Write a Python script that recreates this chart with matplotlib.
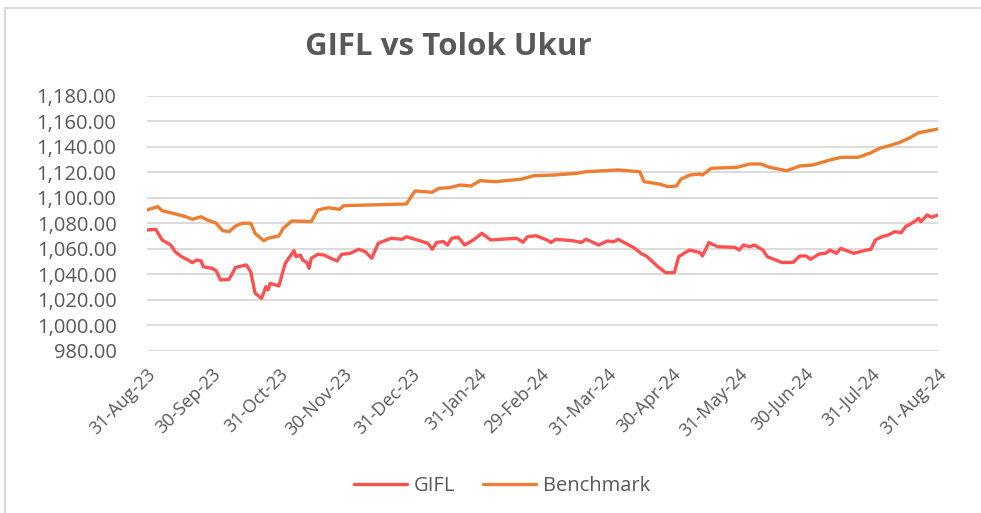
import matplotlib
matplotlib.use("Agg")
import matplotlib.pyplot as plt
import matplotlib.dates as mdates
from matplotlib.patches import Rectangle
import numpy as np

# GIFL series (dates, NAV)
gifl_dates = [
    "2023-08-31", "2023-09-04", "2023-09-07", "2023-09-11", "2023-09-13", "2023-09-16",
    "2023-09-19", "2023-09-21", "2023-09-23", "2023-09-25", "2023-09-26", "2023-09-30",
    "2023-10-02", "2023-10-04", "2023-10-08", "2023-10-11", "2023-10-16", "2023-10-18",
    "2023-10-20", "2023-10-23", "2023-10-25", "2023-10-26", "2023-10-27", "2023-10-31",
    "2023-11-03", "2023-11-07", "2023-11-08", "2023-11-10", "2023-11-11", "2023-11-13",
    "2023-11-14", "2023-11-15", "2023-11-18", "2023-11-21", "2023-11-24", "2023-11-27",
    "2023-11-29", "2023-12-03", "2023-12-07", "2023-12-10", "2023-12-13", "2023-12-16",
    "2023-12-19", "2023-12-22", "2023-12-27", "2023-12-29", "2024-01-03", "2024-01-08",
    "2024-01-10", "2024-01-12", "2024-01-15", "2024-01-17", "2024-01-19", "2024-01-22",
    "2024-01-25", "2024-01-29", "2024-02-02", "2024-02-06", "2024-02-18", "2024-02-21",
    "2024-02-23", "2024-02-27", "2024-03-03", "2024-03-05", "2024-03-07", "2024-03-15",
    "2024-03-19", "2024-03-21", "2024-03-23", "2024-03-27", "2024-03-31", "2024-04-03",
    "2024-04-05", "2024-04-12", "2024-04-16", "2024-04-18", "2024-04-21", "2024-04-23",
    "2024-04-27", "2024-05-01", "2024-05-03", "2024-05-08", "2024-05-13", "2024-05-14",
    "2024-05-17", "2024-05-21", "2024-05-29", "2024-05-31", "2024-06-02", "2024-06-05",
    "2024-06-07", "2024-06-11", "2024-06-13", "2024-06-20", "2024-06-25", "2024-06-28",
    "2024-07-01", "2024-07-03", "2024-07-07", "2024-07-10", "2024-07-12", "2024-07-15",
    "2024-07-17", "2024-07-23", "2024-07-29", "2024-07-31", "2024-08-02", "2024-08-05",
    "2024-08-08", "2024-08-11", "2024-08-14", "2024-08-16", "2024-08-20", "2024-08-22",
    "2024-08-23", "2024-08-26", "2024-08-28", "2024-08-31",
]
gifl_values = [
    1074.9, 1075.5, 1067.1, 1063.1, 1057.9, 1054.0,
    1051.4, 1049.3, 1051.4, 1050.8, 1046.1, 1044.9,
    1043.0, 1035.7, 1036.2, 1045.6, 1047.5, 1042.2,
    1025.3, 1021.3, 1030.4, 1027.8, 1033.1, 1031.0,
    1048.8, 1058.7, 1054.0, 1055.3, 1051.4, 1049.3,
    1044.9, 1052.7, 1055.8, 1055.3, 1052.7, 1050.6,
    1055.8, 1056.6, 1059.8, 1057.9, 1052.7, 1064.5,
    1066.5, 1068.4, 1067.6, 1069.6, 1067.1, 1064.5,
    1059.8, 1065.1, 1065.9, 1063.1, 1068.4, 1069.2,
    1063.1, 1067.1, 1072.3, 1067.1, 1068.4, 1065.3,
    1069.6, 1070.4, 1067.1, 1065.1, 1067.6, 1066.5,
    1065.1, 1067.6, 1066.3, 1063.1, 1066.3, 1065.7,
    1067.6, 1061.3, 1056.1, 1054.5, 1050.0, 1046.7,
    1041.4, 1041.4, 1054.0, 1059.2, 1057.1, 1054.5,
    1065.1, 1061.8, 1061.3, 1059.2, 1063.1, 1061.8,
    1063.1, 1059.2, 1054.0, 1049.3, 1049.6, 1054.5,
    1054.5, 1051.9, 1056.1, 1056.6, 1059.2, 1056.6,
    1060.5, 1056.6, 1059.2, 1059.8, 1067.1, 1069.6,
    1071.0, 1073.6, 1072.8, 1077.5, 1081.4, 1084.1,
    1081.4, 1086.7, 1084.9, 1086.7,
]

# Benchmark series (dates, value)
bench_dates = [
    "2023-08-31", "2023-09-05", "2023-09-07", "2023-09-12", "2023-09-18", "2023-09-21",
    "2023-09-25", "2023-09-28", "2023-10-02", "2023-10-05", "2023-10-08", "2023-10-11",
    "2023-10-14", "2023-10-18", "2023-10-20", "2023-10-24", "2023-10-26", "2023-10-31",
    "2023-11-02", "2023-11-06", "2023-11-15", "2023-11-18", "2023-11-23", "2023-11-28",
    "2023-11-30", "2023-12-29", "2024-01-02", "2024-01-10", "2024-01-13", "2024-01-18",
    "2024-01-23", "2024-01-28", "2024-02-01", "2024-02-08", "2024-02-20", "2024-02-26",
    "2024-03-06", "2024-03-17", "2024-03-21", "2024-04-05", "2024-04-15", "2024-04-17",
    "2024-04-24", "2024-04-28", "2024-05-02", "2024-05-04", "2024-05-08", "2024-05-13",
    "2024-05-14", "2024-05-18", "2024-05-30", "2024-06-05", "2024-06-10", "2024-06-14",
    "2024-06-22", "2024-06-28", "2024-07-04", "2024-07-12", "2024-07-17", "2024-07-25",
    "2024-07-31", "2024-08-04", "2024-08-08", "2024-08-13", "2024-08-18", "2024-08-22",
    "2024-08-27", "2024-08-31",
]
bench_values = [
    1090.6, 1093.2, 1090.0, 1088.0, 1085.3, 1083.3,
    1085.3, 1082.7, 1080.2, 1074.4, 1073.6, 1078.0,
    1080.2, 1080.2, 1072.3, 1066.5, 1068.4, 1070.2,
    1076.2, 1082.0, 1081.5, 1090.6, 1092.4, 1091.1,
    1094.0, 1095.3, 1105.5, 1104.5, 1107.6, 1108.1,
    1110.2, 1109.4, 1113.6, 1112.8, 1114.7, 1117.5,
    1118.0, 1119.4, 1120.6, 1122.0, 1120.6, 1112.8,
    1111.0, 1108.9, 1109.4, 1114.7, 1118.0, 1118.8,
    1118.0, 1123.3, 1124.1, 1126.7, 1126.7, 1124.1,
    1121.4, 1125.1, 1125.9, 1129.8, 1131.9, 1131.9,
    1135.5, 1139.0, 1140.8, 1143.4, 1147.3, 1151.2,
    1152.8, 1154.1,
]

tick_dates = [
    "2023-08-31", "2023-09-30", "2023-10-31", "2023-11-30", "2023-12-31", "2024-01-31",
    "2024-02-29", "2024-03-31", "2024-04-30", "2024-05-31", "2024-06-30", "2024-07-31",
    "2024-08-31",
]
y_ticks = [980, 1000, 1020, 1040, 1060, 1080, 1100, 1120, 1140, 1160, 1180]

TEXT_COLOR = "#595959"
GRID_COLOR = "#D9D9D9"
GIFL_COLOR = "#FF5050"
BENCH_COLOR = "#ED7D31"

plt.rcParams["font.family"] = ["Open Sans", "DejaVu Sans"]

fig = plt.figure(figsize=(9.81, 5.13), dpi=100)
ax = fig.add_axes([147 / 981, 1 - 351 / 513, (938 - 147) / 981, (351 - 96) / 513])

# Chart frame (partially visible, as in the source screenshot)
fig.patches.append(Rectangle((5 / 981, -0.1), 1.1, 1 - 8 / 513 + 0.1,
                             transform=fig.transFigure, fill=False,
                             edgecolor=GRID_COLOR, linewidth=1.5))

gd = np.array(gifl_dates, dtype="datetime64[D]")
bd = np.array(bench_dates, dtype="datetime64[D]")
ax.plot(gd, gifl_values, color=GIFL_COLOR, linewidth=2.4, label="GIFL",
        solid_joinstyle="round", solid_capstyle="round")
ax.plot(bd, bench_values, color=BENCH_COLOR, linewidth=2.4, label="Benchmark",
        solid_joinstyle="round", solid_capstyle="round")

ax.set_ylim(980, 1180)
ax.set_xlim(np.datetime64("2023-08-31"), np.datetime64("2024-08-31"))
ax.set_yticks(y_ticks)
ax.set_yticklabels([f"{v:,.2f}" for v in y_ticks])
ax.set_xticks(np.array(tick_dates, dtype="datetime64[D]"))
ax.xaxis.set_major_formatter(mdates.DateFormatter("%d-%b-%y"))

ax.grid(axis="y", color=GRID_COLOR, linewidth=1.3)
ax.set_axisbelow(True)
for s in ax.spines.values():
    s.set_visible(False)
ax.tick_params(axis="both", length=0, colors=TEXT_COLOR)
ax.tick_params(axis="y", pad=22, labelsize=14.5)
ax.tick_params(axis="x", pad=10, labelsize=13)
for lbl in ax.get_xticklabels():
    lbl.set_rotation(45)
    lbl.set_ha("right")
    lbl.set_rotation_mode("anchor")

fig.text(448 / 981, 1 - 47 / 513, "GIFL vs Tolok Ukur", ha="center", va="center",
         fontsize=22.5, fontweight="bold", color=TEXT_COLOR)

leg = fig.legend(loc="center", bbox_to_anchor=(502 / 981, 1 - 486 / 513), ncol=2,
                 frameon=False, fontsize=14.5, handlelength=2.65, handletextpad=0.33,
                 columnspacing=1.35)
for t in leg.get_texts():
    t.set_color(TEXT_COLOR)

fig.savefig("out.png", dpi=100)
